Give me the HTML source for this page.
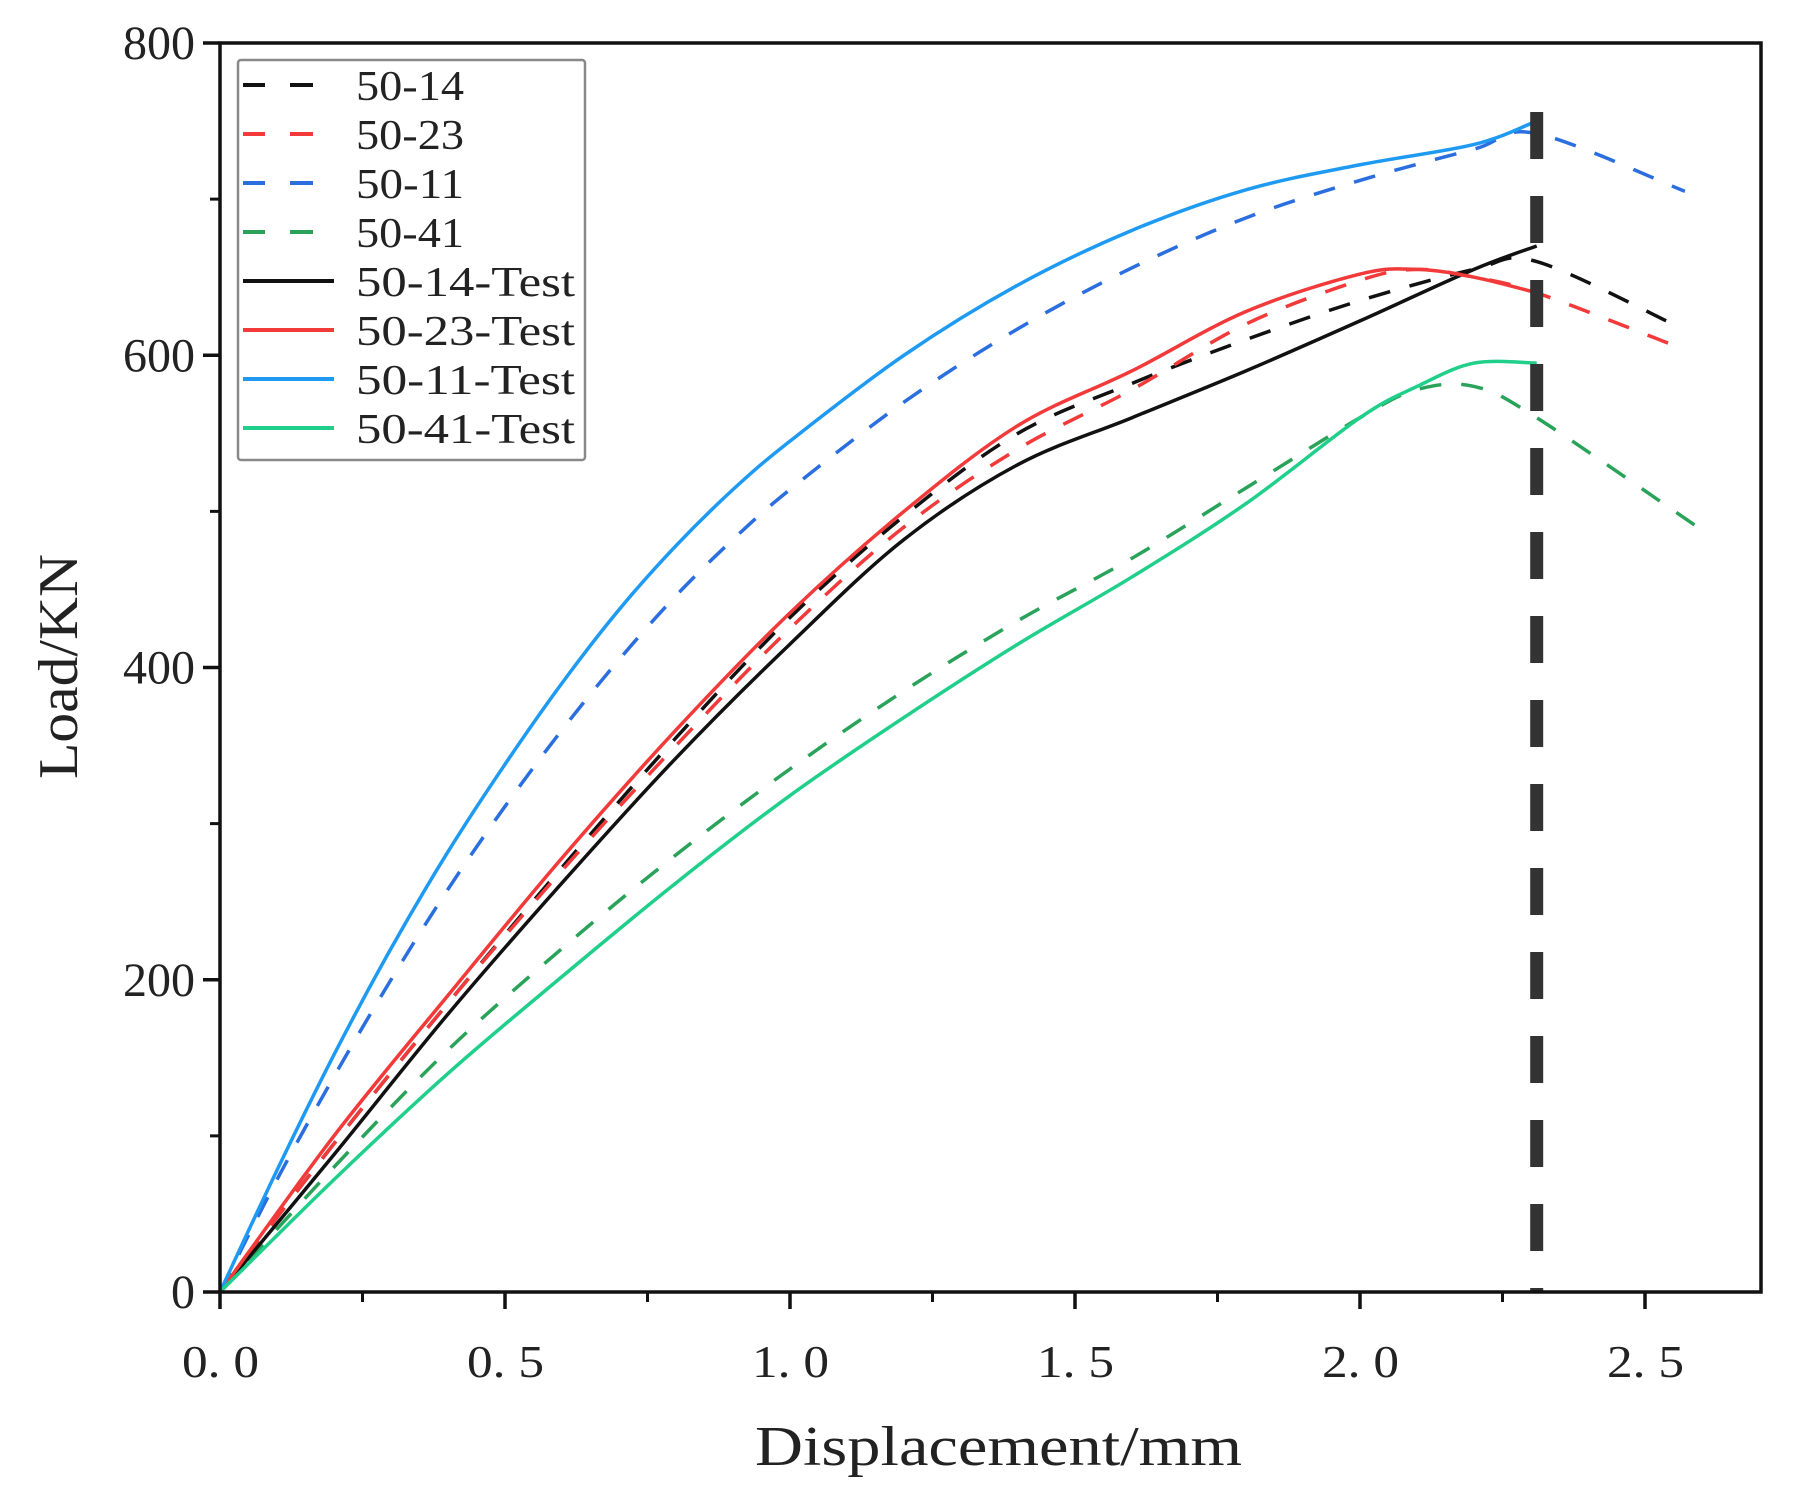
<!DOCTYPE html>
<html><head><meta charset="utf-8"><style>
body{margin:0;background:#fff}
svg text{font-family:"Liberation Serif","Noto Serif CJK SC",serif;fill:#222}
</style></head><body>
<svg id="chart" width="1797" height="1495" xmlns="http://www.w3.org/2000/svg">
<g id="plot"></g>
</svg>
<script>
const xTicks=[0,0.5,1.0,1.5,2.0,2.5];
const xTickLabels=["0. 0","0. 5","1. 0","1. 5","2. 0","2. 5"];
const yTicks=[0,200,400,600,800];
const yTickLabels=["0","200","400","600","800"];
const seriesNames=["50-14","50-23","50-11","50-41","50-14-Test","50-23-Test","50-11-Test","50-41-Test"];
const seriesColors=["#111","#f23a3a","#2a6ee0","#2aa35a","#111","#f23a3a","#1e9af2","#1fcf8a"];
const seriesDashed=[true,true,true,true,false,false,false,false];
const s5014x=[0,0.2,0.4,0.6,0.8,1.0,1.2,1.4,1.6,1.8,2.0,2.2,2.31,2.56];
const s5014y=[0,95,185,272,355,432,497,550,582,610,635,655,660,618];
const s5023x=[0,0.2,0.4,0.6,0.8,1.0,1.2,1.4,1.6,1.8,2.0,2.1,2.2,2.31,2.56];
const s5023y=[0,95,185,270,350,425,490,540,578,620,648,655,650,640,605];
const s5011x=[0,0.1,0.2,0.3,0.4,0.5,0.6,0.7,0.8,0.9,1.0,1.2,1.4,1.6,1.8,2.0,2.2,2.31,2.57];
const s5011y=[0,72,138,200,258,311,360,405,446,482,514,570,617,656,688,712,732,742,705];
const s5041x=[0,0.2,0.4,0.6,0.8,1.0,1.2,1.4,1.6,1.8,2.0,2.1,2.2,2.31,2.6];
const s5041y=[0,80,155,220,280,335,385,430,470,515,560,578,580,560,488];
const t5014x=[0,0.2,0.4,0.6,0.8,1.0,1.2,1.4,1.6,1.8,2.0,2.2,2.31];
const t5014y=[0,88,178,262,342,415,482,530,560,590,622,655,670];
const t5023x=[0,0.2,0.4,0.6,0.8,1.0,1.2,1.4,1.6,1.8,2.0,2.1,2.2,2.31];
const t5023y=[0,100,190,278,360,435,500,555,590,628,652,655,650,640];
const t5011x=[0,0.1,0.2,0.3,0.4,0.5,0.6,0.7,0.8,0.9,1.0,1.2,1.4,1.6,1.8,2.0,2.2,2.31];
const t5011y=[0,78,152,220,282,338,390,437,478,514,545,600,645,680,706,722,735,750];
const t5041x=[0,0.2,0.4,0.6,0.8,1.0,1.2,1.4,1.6,1.8,2.0,2.1,2.2,2.31];
const t5041y=[0,72,140,202,262,318,368,415,458,505,560,580,595,595];
const allX=[s5014x,s5023x,s5011x,s5041x,t5014x,t5023x,t5011x,t5041x];
const allY=[s5014y,s5023y,s5011y,s5041y,t5014y,t5023y,t5011y,t5041y];
const markerX=2.31;

const L=220,R=1761,T=43,B=1292;
const sx=v=>L+v*570;
const sy=v=>B-v*(B-T)/800;
const NS="http://www.w3.org/2000/svg";
const g=document.getElementById('plot');
function mk(tag,at,parent){const e=document.createElementNS(NS,tag);for(const k in at)e.setAttribute(k,at[k]);(parent||g).appendChild(e);return e;}

function smooth(xs,ys){
  const p=xs.map((x,i)=>[sx(x),sy(ys[i])]);
  let d=`M${p[0][0]},${p[0][1]}`;
  for(let i=0;i<p.length-1;i++){
    const p0=p[Math.max(0,i-1)],p1=p[i],p2=p[i+1],p3=p[Math.min(p.length-1,i+2)];
    const c1=[p1[0]+(p2[0]-p0[0])/6,p1[1]+(p2[1]-p0[1])/6];
    const c2=[p2[0]-(p3[0]-p1[0])/6,p2[1]-(p3[1]-p1[1])/6];
    d+=` C${c1[0]},${c1[1]} ${c2[0]},${c2[1]} ${p2[0]},${p2[1]}`;
  }
  return d;
}

for(let i=0;i<allX.length;i++){
  const path=mk('path',{d:smooth(allX[i],allY[i]),fill:'none',stroke:seriesColors[i],'stroke-width':3.5,'stroke-dasharray':seriesDashed[i]?'22 20':'none'});
  
  
}
const vm=mk('line',{x1:sx(markerX),x2:sx(markerX),y1:112,y2:B,stroke:'#333','stroke-width':13,'stroke-dasharray':'47 37'});



const fr=mk('rect',{x:L,y:T,width:R-L,height:B-T,fill:'none',stroke:'#111','stroke-width':3.5});



for(let i=0;i<xTicks.length;i++){
  const x=sx(xTicks[i]);
  mk('line',{x1:x,x2:x,y1:B,y2:B+17,stroke:'#111','stroke-width':3.5});
  const t=mk('text',{x:x-38,y:B+85,'font-size':46,textLength:77,lengthAdjust:'spacingAndGlyphs'});
  t.textContent=xTickLabels[i];
  
  
  const m=sx(xTicks[i]+0.25);
  if(xTicks[i]+0.25<2.7) mk('line',{x1:m,x2:m,y1:B,y2:B+10,stroke:'#111','stroke-width':3});
}
for(let i=0;i<yTicks.length;i++){
  const y=sy(yTicks[i]);
  mk('line',{x1:L-17,x2:L,y1:y,y2:y,stroke:'#111','stroke-width':3.5});
  const t=mk('text',{x:L-25,y:y+16,'font-size':48,'text-anchor':'end'});
  t.textContent=yTickLabels[i];
  
  
  if(yTicks[i]<800){const m=sy(yTicks[i]+100);mk('line',{x1:L-10,x2:L,y1:m,y2:m,stroke:'#111','stroke-width':3});}
}
const xt=mk('text',{x:755,y:1465,'font-size':56,textLength:487,lengthAdjust:'spacingAndGlyphs'});
xt.textContent='Displacement/mm';


const yt=mk('text',{x:-112,y:0,'font-size':56,textLength:225,lengthAdjust:'spacingAndGlyphs',transform:'translate(77,667) rotate(-90)'});
yt.textContent='Load/KN';



const lg=mk('g',{});


mk('rect',{x:238,y:60,width:347,height:400,fill:'#fff',stroke:'#888','stroke-width':2.5,rx:3},lg);
for(let i=0;i<seriesNames.length;i++){
  const y=85+i*49;
  const e=mk('g',{},lg);
  
  
  if(seriesDashed[i]){
    mk('line',{x1:243,x2:265,y1:y,y2:y,stroke:seriesColors[i],'stroke-width':4},e);
    mk('line',{x1:290,x2:313,y1:y,y2:y,stroke:seriesColors[i],'stroke-width':4},e);
  } else mk('line',{x1:243,x2:334,y1:y,y2:y,stroke:seriesColors[i],'stroke-width':4},e);
  const t=mk('text',{x:356,y:y+15,'font-size':42,textLength:seriesNames[i].length>5?219:108,lengthAdjust:'spacingAndGlyphs'},e);
  t.textContent=seriesNames[i];
}
</script>
</body></html>
